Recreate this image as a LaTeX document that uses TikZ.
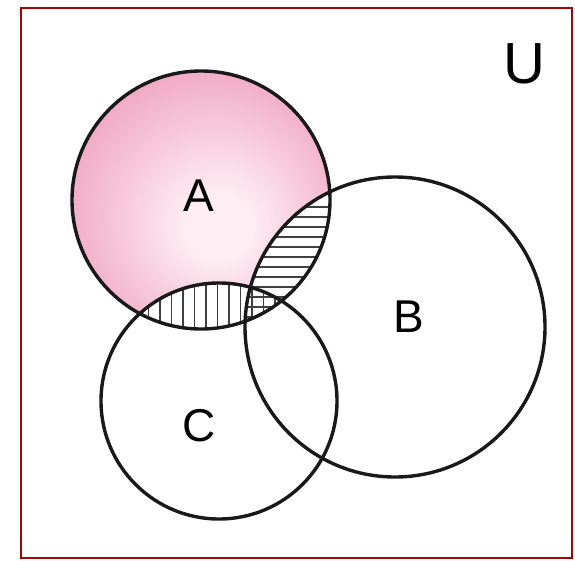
\documentclass[tikz,border=0pt]{standalone}
\usepackage{fontspec}
\setmainfont{Liberation Sans}
\definecolor{frameRed}{RGB}{160,8,8}
\definecolor{pinkIn}{RGB}{254,238,244}
\definecolor{pinkOut}{RGB}{229,115,158}
\pgfdeclareradialshading{pinkball}{\pgfpoint{4bp}{-6bp}}{color(0bp)=(pinkIn); color(6bp)=(pinkIn); color(46bp)=(pinkOut); color(50bp)=(pinkOut)}
\tikzset{
  setcircle/.style={draw=black!90, line width=3.4pt},
  hatchline/.style={draw=black!75, line width=1.3pt},
  setlabel/.style={font=\fontsize{46}{50}\selectfont, inner sep=0pt},
}
\begin{document}
\begin{tikzpicture}[x=1pt, y=-1pt]
\useasboundingbox (0,0) rectangle (575,560);
\fill[white] (0,0) rectangle (575,560);
\draw[frameRed, line width=2.2pt] (21,8) rectangle (572,558);
\coordinate (cA) at (201,200);
\coordinate (cB) at (395,327);
\coordinate (cC) at (219,401);
% shaded A
\shade[shading=pinkball] (cA) circle[radius=129];
% A intersect B: horizontal hatch
\begin{scope}
  \clip (cA) circle[radius=129];
  \clip (cB) circle[radius=150];
  \fill[white] (0,0) rectangle (575,560);
  \foreach \yy in {0,...,14} {
    \draw[hatchline] (230,207+10*\yy) -- (340,207+10*\yy);
  }
\end{scope}
% A intersect C: vertical hatch
\begin{scope}
  \clip (cA) circle[radius=129];
  \clip (cC) circle[radius=118];
  \fill[white] (0,0) rectangle (575,560);
  \foreach \xx in {0,...,14} {
    \draw[hatchline] (148.5+11.5*\xx,270) -- (148.5+11.5*\xx,340);
  }
\end{scope}
% triple region: both hatches
\begin{scope}
  \clip (cA) circle[radius=129];
  \clip (cB) circle[radius=150];
  \clip (cC) circle[radius=118];
  \foreach \yy in {0,...,14} {
    \draw[hatchline] (230,207+10*\yy) -- (340,207+10*\yy);
  }
\end{scope}
\draw[setcircle] (cA) circle[radius=129];
\draw[setcircle] (cB) circle[radius=150];
\draw[setcircle] (cC) circle[radius=118];
\node[setlabel] (lA) at (199,196) {A};
\node[setlabel] (lB) at (409,317) {B};
\node[setlabel] (lC) at (199,426) {C};
\node[inner sep=0pt, font=\fontsize{58}{62}\selectfont] (lU) at (524,64) {U};
\end{tikzpicture}
\end{document}
